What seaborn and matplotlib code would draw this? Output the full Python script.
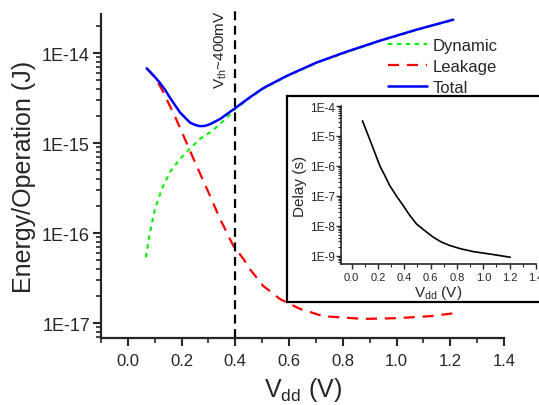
import pandas as pd
import matplotlib
matplotlib.use("Agg")
import matplotlib.pyplot as plt
import seaborn as sns
import numpy as np
from matplotlib.ticker import MultipleLocator, FormatStrFormatter, FuncFormatter, LogLocator, NullFormatter
from matplotlib.lines import Line2D

# energy per operation vs supply voltage
dyn_vdd = [0.067, 0.082, 0.101, 0.126, 0.157, 0.194, 0.231, 0.268, 0.306, 0.343, 0.399,
           0.454, 0.504, 0.591, 0.703, 0.814, 0.938, 1.075, 1.211]
dynamic = [5.4e-17, 1.02e-16, 1.86e-16, 3.1e-16, 4.8e-16, 6.7e-16, 8.7e-16, 1.12e-15, 1.32e-15, 1.63e-15, 2.4e-15,
           3.2e-15, 4.05e-15, 5.55e-15, 7.85e-15, 1.03e-14, 1.37e-14, 1.82e-14, 2.35e-14]

leak_vdd = [0.07, 0.1, 0.126, 0.175, 0.212, 0.256, 0.299, 0.343, 0.392, 0.43, 0.454,
            0.504, 0.566, 0.64, 0.727, 0.876, 1.0, 1.124, 1.211]
leakage = [6.8e-15, 5.4e-15, 4.0e-15, 2.0e-15, 1.12e-15, 5.6e-16, 2.9e-16, 1.45e-16, 7.3e-17, 5.2e-17, 4.0e-17,
           2.6e-17, 1.86e-17, 1.45e-17, 1.2e-17, 1.12e-17, 1.14e-17, 1.2e-17, 1.29e-17]

tot_vdd = [0.07, 0.095, 0.119, 0.138, 0.157, 0.194, 0.231, 0.25, 0.268, 0.287, 0.306, 0.343,
           0.399, 0.454, 0.504, 0.591, 0.703, 0.814, 0.938, 1.075, 1.211]
total = [6.8e-15, 5.7e-15, 4.7e-15, 3.95e-15, 3.2e-15, 2.2e-15, 1.7e-15, 1.6e-15, 1.55e-15, 1.56e-15, 1.63e-15, 1.86e-15,
         2.45e-15, 3.24e-15, 4.1e-15, 5.6e-15, 7.9e-15, 1.04e-14, 1.38e-14, 1.83e-14, 2.36e-14]

# inset: delay vs supply voltage
delay_vdd = [0.083, 0.15, 0.215, 0.25, 0.29, 0.34, 0.391, 0.44, 0.493, 0.55,
             0.619, 0.68, 0.745, 0.83, 0.922, 1.074, 1.205]
delay = [3.2e-5, 5.6e-6, 1.0e-6, 5.0e-7, 2.2e-7, 1.0e-7, 4.8e-8, 2.3e-8, 1.15e-8, 7.2e-9,
         4.2e-9, 2.9e-9, 2.2e-9, 1.7e-9, 1.38e-9, 1.1e-9, 8.9e-10]

GREEN, RED, BLUE = "#11ee11", "#ff0000", "#0000ff"

sns.set_style("ticks")
plt.rcParams['font.family'] = ['Liberation Sans', 'DejaVu Sans']
plt.rcParams['mathtext.fontset'] = 'custom'
plt.rcParams['mathtext.rm'] = 'Liberation Sans'
plt.rcParams['mathtext.it'] = 'Liberation Sans:italic'

W, H = 539, 406


def box(l, t, r, b):
    return [l / W, 1 - b / H, (r - l) / W, (b - t) / H]


def exp_fmt(v, pos):
    return f"1E{int(round(np.log10(v)))}"


df_dyn = pd.DataFrame({"vdd": dyn_vdd, "energy": dynamic})
df_leak = pd.DataFrame({"vdd": leak_vdd, "energy": leakage})
df_tot = pd.DataFrame({"vdd": tot_vdd, "energy": total})
df_delay = pd.DataFrame({"vdd": delay_vdd, "delay": delay})

fig = plt.figure(figsize=(W / 100, H / 100), dpi=100)
ax = fig.add_axes(box(101, 15, 504, 339))

sns.lineplot(data=df_dyn, x="vdd", y="energy", ax=ax, color=GREEN, lw=1.6, ls=(0, (2, 2)))
sns.lineplot(data=df_leak, x="vdd", y="energy", ax=ax, color=RED, lw=1.6, ls=(0, (5, 3.5)))
sns.lineplot(data=df_tot, x="vdd", y="energy", ax=ax, color=BLUE, lw=1.8)

ax.set_yscale("log")
ax.set_xlim(-0.1, 1.4)
ax.set_ylim(6.87e-18, 2.73e-14)
ax.xaxis.set_major_locator(MultipleLocator(0.2))
ax.xaxis.set_minor_locator(MultipleLocator(0.1))
ax.xaxis.set_major_formatter(FormatStrFormatter('%.1f'))
ax.yaxis.set_major_locator(LogLocator(base=10))
ax.yaxis.set_minor_locator(LogLocator(base=10, subs=np.arange(2, 10)))
ax.yaxis.set_major_formatter(FuncFormatter(exp_fmt))
ax.yaxis.set_minor_formatter(NullFormatter())
ax.tick_params(axis='x', which='major', labelsize=12, length=6, width=1.5, direction='out', pad=5)
ax.tick_params(axis='y', which='major', labelsize=13, length=6, width=1.5, direction='out', pad=2)
ax.tick_params(which='minor', length=3.5, width=1.2, direction='out')
sns.despine(ax=ax)
for s in ["left", "bottom"]:
    ax.spines[s].set_linewidth(1.6)
ax.set_xlabel(r"V$_{\mathrm{dd}}$ (V)", fontsize=18, labelpad=5)
ax.set_ylabel("Energy/Operation (J)", fontsize=18, labelpad=4)

ax.axvline(0.4, ymin=0, ymax=1.015, color="black", lw=1.6, ls=(0, (4, 2.5)), clip_on=False)
fig.text(221 / W, 1 - 10 / H, r"V$_{\mathrm{th}}$~400mV", rotation=90, ha="center", va="top", fontsize=11)

handles = [Line2D([], [], color=GREEN, lw=1.6, ls=(0, (2, 2))),
           Line2D([], [], color=RED, lw=1.6, ls=(0, (5, 3.5))),
           Line2D([], [], color=BLUE, lw=1.8)]
leg = fig.legend(handles, ["Dynamic", "Leakage", "Total"], loc="upper left",
                 bbox_to_anchor=(388 / W, 1 - 39 / H), bbox_transform=fig.transFigure,
                 frameon=False, fontsize=12, handlelength=2.35, handletextpad=0.35,
                 labelspacing=0.35, borderpad=0, borderaxespad=0)
leg.set_zorder(10)

# inset frame
frame = fig.add_axes(box(287, 97, 640, 303), zorder=3)
frame.set_facecolor("white")
frame.set_xticks([])
frame.set_yticks([])
for s in frame.spines.values():
    s.set_linewidth(1.6)
    s.set_color("black")

inset = fig.add_axes(box(341, 107, 536, 265), zorder=4)
inset.set_facecolor("none")
sns.lineplot(data=df_delay, x="vdd", y="delay", ax=inset, color="black", lw=1.2)
inset.set_yscale("log")
inset.set_xlim(-0.08, 1.4)
inset.set_ylim(5.3e-10, 1e-4)
inset.xaxis.set_major_locator(MultipleLocator(0.2))
inset.xaxis.set_minor_locator(MultipleLocator(0.1))
inset.xaxis.set_major_formatter(FormatStrFormatter('%.1f'))
inset.yaxis.set_major_locator(LogLocator(base=10))
inset.yaxis.set_minor_locator(LogLocator(base=10, subs=np.arange(2, 10)))
inset.yaxis.set_major_formatter(FuncFormatter(exp_fmt))
inset.yaxis.set_minor_formatter(NullFormatter())
inset.tick_params(axis='x', which='major', labelsize=8, length=3.5, width=1, pad=2)
inset.tick_params(axis='y', which='major', labelsize=8.5, length=3.5, width=1, pad=1)
inset.tick_params(which='minor', length=2, width=0.8)
sns.despine(ax=inset)
for s in ["left", "bottom"]:
    inset.spines[s].set_linewidth(1.2)
inset.set_xlabel(r"V$_{\mathrm{dd}}$ (V)", fontsize=11, labelpad=1)
inset.set_ylabel("Delay (s)", fontsize=11, labelpad=2)

plt.savefig("out.png", dpi=100)
